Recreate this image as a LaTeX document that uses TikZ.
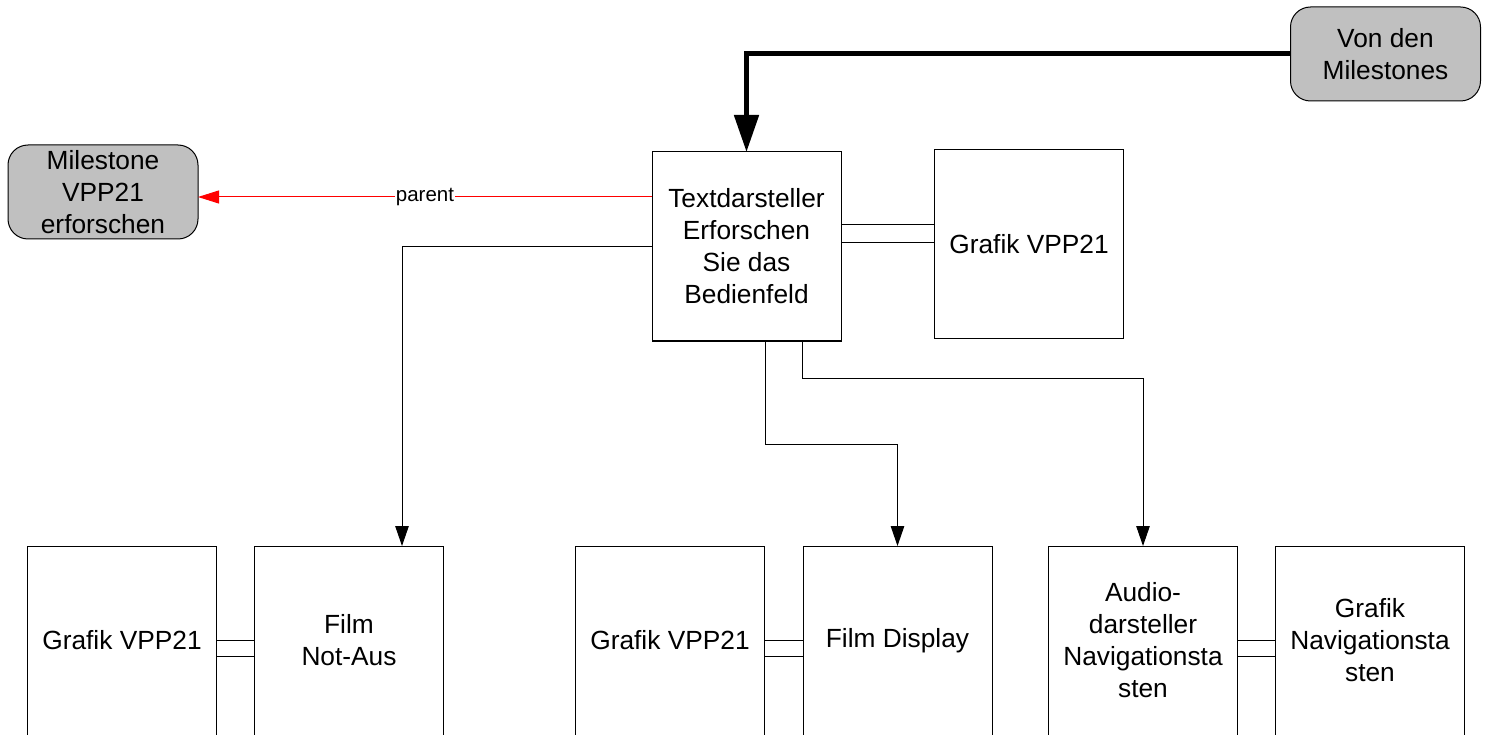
\documentclass[tikz,border=0pt]{standalone}
\usepackage{fontspec}
\setmainfont{Liberation Sans}
\usetikzlibrary{arrows.meta}
\definecolor{fillgray}{HTML}{C0C0C0}
\begin{document}
\begin{tikzpicture}[x=1pt,y=-1pt,
  box/.style={draw=black,line width=1pt,fill=white,minimum width=189pt,minimum height=189pt,
    inner sep=0pt,outer sep=0pt,align=center,font=\fontsize{26.3}{32}\selectfont},
  gbox/.style={box,fill=fillgray,minimum width=190pt,minimum height=94pt,rounded corners=20pt},
  link/.style={draw=black,line width=1pt},
  arr/.style={link,-{Triangle[length=20pt,width=13.5pt]}},
  bigarr/.style={draw=black,line width=5pt,-{Triangle[length=37pt,width=24pt]}},
  parentarr/.style={draw=red,line width=1pt,-{Triangle[length=21pt,width=13pt]}},
  lbl/.style={fill=white,inner sep=1pt,text=black,font=\fontsize{20.5}{24}\selectfont}
]
\useasboundingbox (0,0) rectangle (1486,735);

% nodes
\node[gbox] (von) at (1385.5,54) {Von den\\Milestones};
\node[gbox] (ms) at (103,192) {Milestone\\VPP21\\erforschen};
\node[box] (t) at (746.5,246.5) {Textdarsteller\\Erforschen\\Sie das\\Bedienfeld};
\node[box] (g1) at (1029,244) {Grafik VPP21};

\node[box] (b1) at (122,640.5) {Grafik VPP21};
\node[box] (b2) at (349,640.5) {Film\\Not-Aus};
\node[box] (b3) at (670,640.5) {Grafik VPP21};
\node[box] (b4) at (897.5,640.5) {Film Display};
\node[box] (b5) at (1143,640.5) {Audio-\\darsteller\\Navigationsta\\sten};
\node[box] (b6) at (1370,640.5) {Grafik\\Navigationsta\\sten};

% connectors
\draw[bigarr] (von.west) -| (t.north);
\draw[parentarr] (t.west |- 0,197) -- node[lbl] {parent} (ms.east |- 0,197);
\draw[arr] (t.west) -| ([xshift=53pt]b2.north);
\draw[arr] ([xshift=18.5pt]t.south) |- (b4.north |- 0,444) -- (b4.north);
\draw[arr] ([xshift=56pt]t.south) |- (b5.north |- 0,378) -- (b5.north);

% double links
\draw[link] (t.east |- 0,225) -- (g1.west |- 0,225);
\draw[link] (t.east |- 0,243) -- (g1.west |- 0,243);
\draw[link] (b1.east |- 0,640) -- (b2.west |- 0,640);
\draw[link] (b1.east |- 0,656.5) -- (b2.west |- 0,656.5);
\draw[link] (b3.east |- 0,640) -- (b4.west |- 0,640);
\draw[link] (b3.east |- 0,656.5) -- (b4.west |- 0,656.5);
\draw[link] (b5.east |- 0,640) -- (b6.west |- 0,640);
\draw[link] (b5.east |- 0,656.5) -- (b6.west |- 0,656.5);
\end{tikzpicture}
\end{document}
